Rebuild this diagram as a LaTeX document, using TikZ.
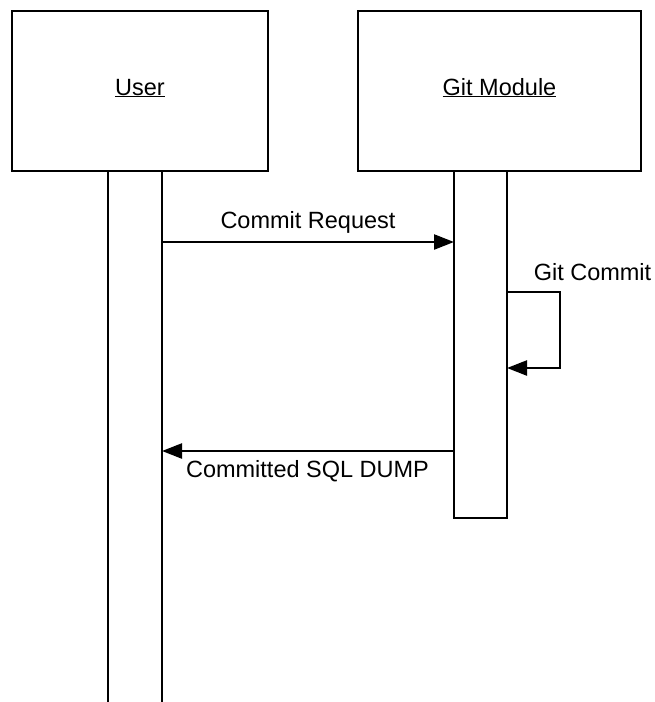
\documentclass[tikz,border=0pt]{standalone}
\usepackage{fontspec}
\setmainfont{Liberation Sans}
\usetikzlibrary{arrows.meta}
\begin{document}
\begin{tikzpicture}[x=1pt,y=-1pt,
  every node/.style={font=\fontsize{23.5}{28}\selectfont, inner sep=0pt, outer sep=0pt},
  objbox/.style={draw, line width=2.4pt, rectangle, line join=miter},
  actbox/.style={draw, line width=2.4pt, rectangle},
  lifebox/.style={rectangle},
  msg/.style={line width=2.4pt, -{Triangle[length=20pt,width=15pt]}},
  lbl/.style={anchor=base}
]
\useasboundingbox (0,0) rectangle (655,702);
% objects
\node[objbox, minimum width=256pt, minimum height=160pt] (user) at (140,91) {};
\node[objbox, minimum width=283pt, minimum height=160pt] (git) at (499.5,91) {};
\node[lbl] (usertxt) at (140,95) {\underline{User}};
\node[lbl] (gittxt) at (499.5,95) {\underline{Git Module}};
% user lifeline (sides only, runs off the bottom)
\node[lifebox, minimum width=54pt, minimum height=540pt, anchor=north] (ul) at (135,171) {};
\draw[line width=2.4pt] (ul.north west) -- (ul.south west);
\draw[line width=2.4pt] (ul.north east) -- (ul.south east);
% git activation
\node[actbox, minimum width=53pt, minimum height=347pt, anchor=north] (ga) at (480.5,171) {};
% message coordinates
\coordinate (m1) at (0,242);
\coordinate (lt) at (0,292);
\coordinate (lb) at (0,368);
\coordinate (lr) at (560,0);
\coordinate (m2) at (0,451);
% commit request
\draw[msg] (ul.east |- m1) -- (ga.west |- m1);
\node[lbl] (cr) at (308,228) {Commit Request};
% self call
\draw[msg, line join=miter] (ga.east |- lt) -- (lr |- lt) -- (lr |- lb) -- (ga.east |- lb);
\node[lbl] (gc) at (592.5,280) {Git Commit};
% reply
\draw[msg] (ga.west |- m2) -- (ul.east |- m2);
\node[lbl] (dump) at (307.5,477) {Committed SQL DUMP};
\end{tikzpicture}
\end{document}
